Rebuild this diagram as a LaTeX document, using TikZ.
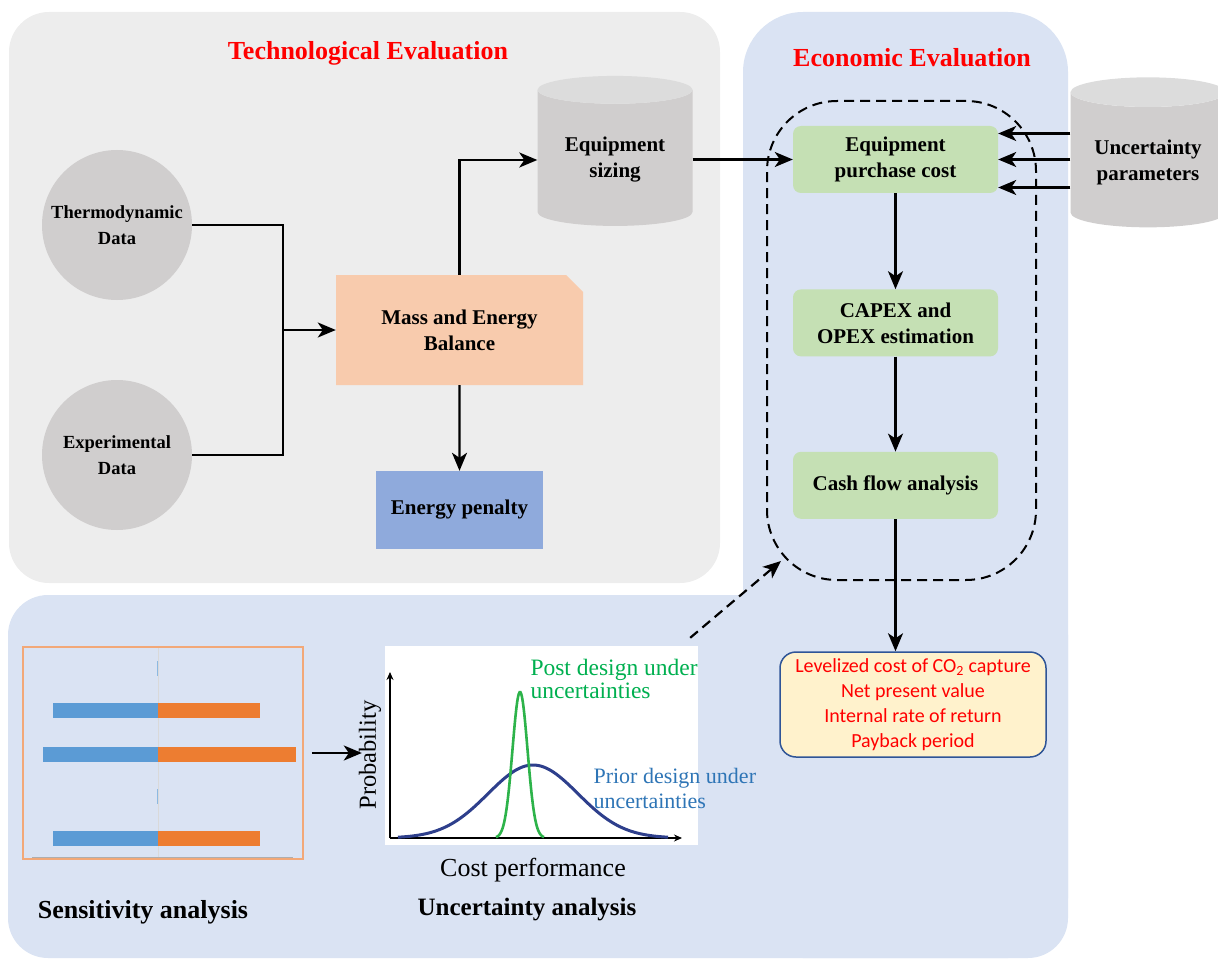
\documentclass[tikz,border=0pt]{standalone}
\usepackage{fontspec}
\setmainfont{Liberation Serif}
\newfontfamily\calibri{Carlito}
\usetikzlibrary{shapes.geometric, shapes.misc, arrows.meta, positioning, calc}

\definecolor{techgray}{HTML}{EDEDED}
\definecolor{econblue}{HTML}{DAE3F3}
\definecolor{datagray}{HTML}{D0CECE}
\definecolor{topgray}{HTML}{DCDCDC}
\definecolor{massorange}{HTML}{F8CBAD}
\definecolor{penblue}{HTML}{8FAADC}
\definecolor{ecogreen}{HTML}{C5E0B4}
\definecolor{resyellow}{HTML}{FFF2CC}
\definecolor{resborder}{HTML}{2F5597}
\definecolor{sensborder}{HTML}{F2A878}
\definecolor{barblue}{HTML}{5B9BD5}
\definecolor{barorange}{HTML}{ED7D31}
\definecolor{gridgray}{HTML}{D9D9D9}
\definecolor{curvenavy}{HTML}{2E3F8C}
\definecolor{curvegreen}{HTML}{2DB34A}
\definecolor{postgreen}{HTML}{00B050}
\definecolor{priorblue}{HTML}{2E75B6}

\newcommand{\lblfont}{\fontsize{21}{26}\selectfont\bfseries}
\newcommand{\circfont}{\fontsize{18.5}{26}\selectfont\bfseries}
\newcommand{\ttlfont}{\fontsize{26}{28}\selectfont\bfseries}

\begin{document}
\begin{tikzpicture}[
    x=1pt, y=-1pt,
    node distance=95pt,
    title/.style={text=red, font=\ttlfont},
    datacirc/.style={circle, fill=datagray, minimum size=150pt, align=center, font=\circfont},
    store/.style={cylinder, shape border rotate=90, aspect=0.26, minimum height=150pt, minimum width=155pt, cylinder uses custom fill, cylinder body fill=datagray, cylinder end fill=topgray, align=center, font=\lblfont},
    massbox/.style={chamfered rectangle, chamfered rectangle corners=north east, chamfered rectangle xsep=8.5pt, chamfered rectangle ysep=8.5pt, fill=massorange, minimum width=247pt, minimum height=110pt, align=center, font=\lblfont},
    penbox/.style={rectangle, fill=penblue, minimum width=167pt, minimum height=78pt, align=center, font=\lblfont},
    ecobox/.style={rectangle, rounded corners=8pt, fill=ecogreen, minimum width=205pt, minimum height=67pt, align=center, font=\lblfont},
    resbox/.style={rectangle, rounded corners=16pt, draw=resborder, line width=1.5pt, fill=resyellow, minimum width=266pt, minimum height=105pt, align=center, text=red, font=\calibri\fontsize{20}{25}\selectfont},
    region/.style={rectangle, rounded corners=70pt, draw, dash pattern=on 10pt off 6pt, line width=2pt, minimum width=269pt, minimum height=479pt},
    line/.style={line width=2.2pt},
    arrow/.style={-{Stealth[length=18pt, width=15pt, inset=5pt]}, line width=2.2pt},
    dasharrow/.style={-{Stealth[length=18pt, width=15pt, inset=5pt]}, line width=2.2pt, dash pattern=on 10pt off 6pt},
    axis/.style={-{Stealth[length=8pt, width=7pt]}, line width=1.8pt},
    plotlbl/.style={align=left, anchor=west}
]
    \useasboundingbox (0,0) rectangle (1218,960);
    \fill[techgray, rounded corners=40pt] (9,12) rectangle (720,583);
    \fill[econblue, rounded corners=60pt] (743,12) rectangle (1068,958);
    \fill[econblue, rounded corners=40pt] (8,595) rectangle (1068,958);

    \node[title] (techtitle) at (368,53) {Technological Evaluation};
    \node[title] (econtitle) at (912,58) {Economic Evaluation};

    \node[datacirc] (thermo) at (117,225) {Thermodynamic\\Data};
    \node[datacirc] (expdata) at (117,455) {Experimental\\Data};
    \node[massbox] (mass) at (459.5,330) {Mass and Energy\\Balance};
    \node[penbox] (pen) at (459.5,510) {Energy penalty};
    \node[store] (sizing) at (615,160) {Equipment\\sizing};
    \node[store] (unc) at (1148,162) {Uncertainty\\parameters};

    \node[region] (econ) at (901.5,340.5) {};
    \node[ecobox] (epc) at (895.5,159.5) {Equipment\\purchase cost};
    \node[ecobox, below=96pt of epc] (capex) {CAPEX and\\OPEX estimation};
    \node[ecobox, below=of capex] (cash) {Cash flow analysis};
    \node[resbox] (res) at (913,704.5) {Levelized cost of CO\textsubscript{2} capture\\Net present value\\Internal rate of return\\Payback period};

    \node[draw=sensborder, line width=1.5pt, minimum width=280pt, minimum height=212pt] (schart) at (163,753) {};
    \draw[gridgray, line width=1pt] (158,648) -- (158,858);
    \draw[gridgray!80!black, line width=1pt] (32,857) -- (293,857);
    \foreach \ry/\lx/\rx in {703/53/260, 747/43/296, 831/53/260} {
        \fill[barblue] (\lx,\ry) rectangle (158,\ry+15);
        \fill[barorange] (158,\ry) rectangle (\rx,\ry+15);
    }
    \fill[barblue!70] (156.5,661) rectangle (158,676);
    \fill[barblue!70] (156.5,789) rectangle (158,804);

    \node[fill=white, minimum width=313pt, minimum height=199pt] (uchart) at (541.5,745.5) {};
    \draw[axis] (390,838) -- (390,672);
    \draw[axis] (390,838) -- (682,838);
    \draw[curvenavy, line width=3pt] plot[domain=398:668, samples=90] (\x, {838-73*exp(-0.5*((\x-533)/45)^2)});
    \draw[curvegreen, line width=2.6pt] plot[domain=496:544, samples=60] (\x, {838-146*exp(-0.5*((\x-520)/7.5)^2)});
    \node[plotlbl, text=postgreen, font=\fontsize{23.5}{23}\selectfont] (postlbl) at (527,679) {Post design under\\uncertainties};
    \node[plotlbl, text=priorblue, font=\fontsize{22}{25}\selectfont] (priorlbl) at (590,788) {Prior design under\\uncertainties};
    \node[rotate=90, font=\fontsize{24.5}{26}\selectfont] (problbl) at (370,755) {Probability};
    \node[font=\fontsize{26}{28}\selectfont] (costlbl) at (533,870) {Cost performance};
    \node[font=\ttlfont] (senslbl) at (143,912) {Sensitivity analysis};
    \node[font=\fontsize{25}{28}\selectfont\bfseries] (unclbl) at (527,910) {Uncertainty analysis};

    \coordinate (merge) at (283,330);
    \coordinate (econtip) at (781,561);
    \draw[line] (thermo.east) -| (merge);
    \draw[line] (expdata.east) -| (merge);
    \draw[arrow] (merge) -- (mass.west);
    \draw[arrow] (mass.north) |- (sizing.west);
    \draw[arrow] (mass) -- (pen);
    \draw[arrow] (sizing.east |- epc.west) -- (epc.west);
    \foreach \dy in {-26,0,28} {
        \draw[arrow] ($(unc.west |- epc.east)+(0,\dy)$) -- ($(epc.east)+(0,\dy)$);
    }
    \draw[arrow] (epc) -- (capex);
    \draw[arrow] (capex) -- (cash);
    \draw[arrow] (cash.south) -- (cash.south |- res.north);
    \draw[arrow, shorten <=8pt, shorten >=23pt] (schart.east) -- (schart.east -| uchart.west);
    \draw[dasharrow] ($(uchart.north east)+(-8,-8)$) -- (econtip);
\end{tikzpicture}
\end{document}
